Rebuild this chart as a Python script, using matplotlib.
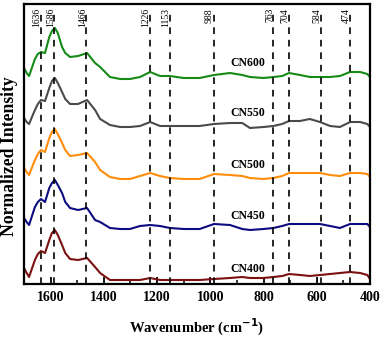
import matplotlib
matplotlib.use("Agg")
import matplotlib.pyplot as plt
from matplotlib.transforms import offset_copy

plt.rcParams['font.family'] = ['Liberation Serif', 'DejaVu Serif']

wavenumber = [1700, 1690, 1681, 1659, 1648, 1636, 1621, 1605, 1595, 1584, 1573, 1557, 1545,
              1527, 1497, 1463, 1433, 1414, 1377, 1339, 1302, 1264, 1226, 1189, 1152, 1100,
              1040, 986, 926, 880, 851, 800, 763, 730, 704, 663, 626, 588, 550, 513, 475,
              437, 410, 400]

cn600 = [216, 211, 208, 225, 230, 232, 231, 247, 253, 256, 251, 237, 231, 227, 228, 231, 221,
         217, 207, 205, 205, 207, 212, 208, 208, 206, 206, 209, 211, 209, 207, 206, 207, 208,
         211, 209, 207, 207, 207, 208, 212, 212, 210, 207]
cn550 = [166, 162, 160, 174, 180, 184, 183, 196, 203, 206, 201, 192, 185, 180, 180, 184, 174,
         165, 159, 157, 157, 158, 162, 158, 158, 158, 158, 160, 161, 161, 156, 157, 158, 160,
         163, 163, 165, 162, 158, 157, 162, 162, 160, 157]
cn500 = [116, 112, 109, 124, 130, 134, 132, 146, 152, 155, 150, 141, 134, 128, 129, 131, 122,
         114, 107, 105, 105, 108, 111, 108, 106, 105, 105, 110, 109, 108, 106, 105, 106, 108,
         111, 111, 111, 111, 109, 108, 111, 111, 110, 107]
cn450 = [66, 62, 59, 77, 82, 85, 82, 96, 101, 104, 99, 91, 82, 76, 74, 76, 64, 62, 56, 55, 55,
         58, 59, 58, 56, 55, 55, 60, 59, 55, 54, 55, 56, 58, 60, 60, 60, 60, 58, 56, 60, 60,
         60, 57]
cn400 = [16, 11, 7, 24, 30, 33, 31, 44, 51, 54, 49, 39, 31, 25, 24, 26, 17, 11, 4, 4, 4, 4, 6,
         4, 4, 4, 4, 5, 6, 7, 6, 6, 7, 8, 10, 9, 8, 9, 10, 11, 12, 11, 9, 5]

series_names = ["CN600", "CN550", "CN500", "CN450", "CN400"]
series_values = [cn600, cn550, cn500, cn450, cn400]
series_colors = ["#168a16", "#4a4a4a", "#ff8c0a", "#0c0c80", "#7a1010"]
label_heights = [221, 171, 119, 68, 15]
label_x = 860

peak_positions = [1636, 1586, 1466, 1226, 1153, 988, 763, 704, 584, 474]
x_ticks = [1600, 1400, 1200, 1000, 800, 600, 400]

fig = plt.figure(figsize=(3.87, 3.39), dpi=100)
ax = fig.add_axes([24/387, 1-284/339, 346/387, 280/339])

for name, vals, col in zip(series_names, series_values, series_colors):
    ax.plot(wavenumber, vals, color=col, lw=1.5, solid_joinstyle='round')

for name, h in zip(series_names, label_heights):
    ax.text(label_x, h, name, ha='center', va='center', fontsize=8.5, fontweight='bold')

lab_tr = offset_copy(ax.transData, fig=fig, x=-4, y=0, units='dots')
for p in peak_positions:
    ax.plot([p, p], [0, 273], color='black', lw=1.2, linestyle=(0, (4, 3.5)))
    ax.text(p, 276, str(p), transform=lab_tr, rotation=90, ha='center', va='top', fontsize=7)

ax.set_xlim(1700, 400)
ax.set_ylim(0, 280)
ax.set_xticks(x_ticks)
ax.set_xticks(range(1500, 400, -200), minor=True)
ax.set_yticks([])
ax.tick_params(axis='x', which='major', direction='in', length=5, width=1.3, labelsize=10, pad=5)
ax.tick_params(axis='x', which='minor', direction='in', length=3, width=1.1)
for lbl in ax.get_xticklabels():
    lbl.set_fontweight('bold')
for s in ax.spines.values():
    s.set_linewidth(1.6)

ax.set_xlabel('Wavenumber (cm$^{\\mathbf{-1}}$)', fontsize=10.5, fontweight='bold')
ax.xaxis.set_label_coords(0.5, -0.118)
ax.set_ylabel('Normalized Intensity', fontsize=12.7, fontweight='bold')
ax.yaxis.set_label_coords(-0.018, 0.457)

fig.savefig('out.png', dpi=100)
